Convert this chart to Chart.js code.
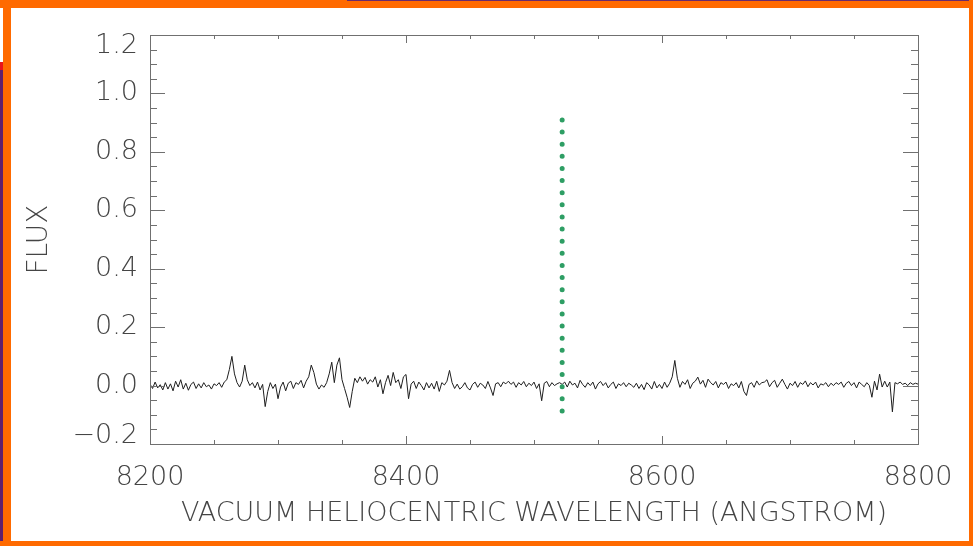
<!DOCTYPE html>
<html>
<head>
<meta charset="utf-8">
<script src="https://cdn.jsdelivr.net/npm/chart.js@4.4.1/dist/chart.umd.min.js"></script>
<style>
    html, body { margin: 0; padding: 0; background: #fff; }
    #wrap { position: relative; width: 973px; height: 546px; overflow: hidden; }
    #chart { position: absolute; left: 0; top: 0; }
    .frame { position: absolute; pointer-events: none; }
</style>
</head>
<body>
<div id="wrap">
    <canvas id="chart" width="973" height="546"></canvas>
    <div class="frame" style="left:0;top:0;width:973px;height:8px;background:#ff6a00"></div>
    <div class="frame" style="left:347px;top:0;width:626px;height:1px;background:#6b2a6b"></div>
    <div class="frame" style="left:3px;top:0;width:8px;height:546px;background:#ff6a00"></div>
    <div class="frame" style="left:0;top:62px;width:3px;height:8px;background:#e8141c"></div>
    <div class="frame" style="left:0;top:70px;width:3px;height:476px;background:#5e1f6e"></div>
    <div class="frame" style="left:969px;top:0;width:4px;height:546px;background:#ff6a00"></div>
    <div class="frame" style="left:0;top:541px;width:973px;height:5px;background:#ff6a00"></div>
</div>
<script>
// spectrum, sampled every 2 Angstrom from 8200 to 8800
const waveStart = 8200;
const waveStep = 2;
const fluxValues = [
    0.005,-0.010,0.012,-0.008,0.003,-0.015,0.010,-0.012,0.006,-0.018,
    0.015,-0.005,0.020,-0.012,0.008,-0.016,0.004,0.012,-0.010,0.006,
    -0.008,0.010,-0.004,0.002,-0.012,0.006,0.000,0.010,-0.006,0.012,
    0.020,0.055,0.100,0.040,0.010,-0.005,0.015,0.070,0.020,0.000,
    0.010,-0.008,0.012,-0.015,0.004,-0.072,-0.020,0.010,-0.010,0.005,
    -0.045,-0.005,0.012,-0.018,0.008,0.015,-0.010,0.010,0.004,0.018,
    -0.008,0.015,0.030,0.070,0.045,0.005,-0.012,0.002,-0.006,0.010,
    0.040,0.080,0.010,0.070,0.095,0.020,-0.010,-0.040,-0.075,-0.020,
    0.025,0.010,0.030,0.015,0.028,0.005,0.020,0.012,0.030,-0.005,
    0.020,-0.028,0.010,0.035,0.000,0.045,0.010,0.020,-0.010,0.030,
    0.038,-0.045,0.005,0.015,-0.010,0.012,0.000,-0.015,0.010,-0.008,
    0.008,-0.012,0.015,-0.020,0.010,0.002,0.015,0.052,0.010,-0.010,
    0.005,-0.012,-0.004,0.010,-0.008,-0.015,0.004,0.012,-0.006,0.008,
    0.002,-0.010,0.014,-0.008,-0.034,0.006,0.010,-0.004,0.012,0.006,
    0.015,0.004,0.012,-0.006,0.010,0.002,0.014,-0.004,0.008,0.000,
    0.012,-0.010,0.006,-0.052,0.008,0.014,-0.004,0.010,0.000,0.006,
    0.010,0.004,0.012,-0.005,0.015,0.002,0.008,-0.008,0.018,0.004,
    -0.006,0.010,0.000,0.012,-0.012,0.006,0.014,0.000,0.010,-0.008,
    0.004,0.012,-0.010,0.006,0.000,0.010,-0.004,0.008,0.002,-0.006,
    0.008,-0.010,0.004,-0.014,0.010,0.002,-0.012,0.014,-0.008,0.004,
    -0.010,0.012,-0.006,0.008,0.030,0.086,0.025,-0.006,0.014,0.004,
    0.020,-0.010,0.008,0.015,0.029,0.005,0.018,-0.006,0.022,0.010,
    0.002,0.014,-0.008,0.010,0.004,0.012,-0.010,0.006,0.000,0.010,
    -0.008,0.014,-0.020,-0.034,0.004,0.010,-0.006,0.016,0.002,0.010,
    0.012,0.020,-0.004,0.010,0.018,-0.006,0.008,0.022,0.004,-0.012,
    0.008,0.000,0.014,-0.006,0.010,0.004,0.016,-0.004,0.010,0.002,
    0.012,-0.008,0.006,0.002,0.010,-0.004,0.008,0.000,0.010,0.004,
    0.012,-0.006,0.008,0.014,0.000,0.010,-0.008,0.012,0.004,-0.004,
    0.010,0.000,-0.040,0.015,-0.015,0.039,-0.005,0.015,-0.005,0.012,
    -0.090,0.010,0.006,0.012,0.004,0.008,0.000,0.010,0.004,0.008,
    0.005
];

// green dotted marker line
const markerWave = 8522;
const markerFlux = [-0.087, 0.912];

const xMin = 8200, xMax = 8800;
const yMin = -0.2, yMax = 1.2;
const xLabelValues = [8200, 8400, 8600, 8800];
const yLabelValues = [-0.2, 0.0, 0.2, 0.4, 0.6, 0.8, 1.0, 1.2];

const textColor = '#454545';
const axisColor = '#707070';
const fontFamily = "'DejaVu Sans', sans-serif";

const spectrum = fluxValues.map((f, i) => ({ x: waveStart + i * waveStep, y: f }));
const marker = markerFlux.map(f => ({ x: markerWave, y: f }));

// IDL style frame with inward ticks on all four sides
const framePlugin = {
    id: 'idlFrame',
    afterDraw(chart) {
        const ctx = chart.ctx;
        const area = chart.chartArea;
        const xs = chart.scales.x;
        const ys = chart.scales.y;
        ctx.save();
        ctx.strokeStyle = axisColor;
        ctx.lineWidth = 1;
        ctx.strokeRect(area.left + 0.5, area.top + 0.5, area.right - area.left, area.bottom - area.top);

        ctx.beginPath();
        for (let v = xMin; v <= xMax; v += 50) {
            const px = Math.round(xs.getPixelForValue(v)) + 0.5;
            const len = v % 200 === 0 ? 8 : 4;
            ctx.moveTo(px, area.bottom);
            ctx.lineTo(px, area.bottom - len);
            ctx.moveTo(px, area.top);
            ctx.lineTo(px, area.top + len);
        }
        for (let i = 0; i <= 28; i++) {
            const v = yMin + i * 0.05;
            const py = Math.round(ys.getPixelForValue(v)) + 0.5;
            const len = i % 4 === 0 ? 15 : 7;
            ctx.moveTo(area.left, py);
            ctx.lineTo(area.left + len, py);
            ctx.moveTo(area.right, py);
            ctx.lineTo(area.right - len, py);
        }
        ctx.stroke();

        // y tick labels, kept inside the frame at the ends
        ctx.fillStyle = textColor;
        ctx.font = "200 27px " + fontFamily;
        ctx.textAlign = 'right';
        ctx.textBaseline = 'middle';
        yLabelValues.forEach(v => {
            let py = ys.getPixelForValue(v);
            py = Math.max(area.top + 11, Math.min(area.bottom - 8, py));
            const label = (v < 0 ? '\u2212' : '') + Math.abs(v).toFixed(1);
            ctx.fillText(label, area.left - 12, py);
        });
        ctx.restore();
    }
};

const chart = new Chart(document.getElementById('chart'), {
    type: 'line',
    data: {
        datasets: [{
            label: 'Flux',
            data: spectrum,
            borderColor: '#1e1e1e',
            borderWidth: 1,
            pointRadius: 0,
            tension: 0,
            order: 2
        }, {
            label: 'Marker',
            data: marker,
            borderColor: '#2e9e64',
            borderWidth: 5,
            borderDash: [0, 12.125],
            borderCapStyle: 'round',
            pointRadius: 0,
            order: 1
        }]
    },
    options: {
        responsive: false,
        animation: false,
        events: [],
        layout: { padding: { left: 0, right: 55, top: 35, bottom: 0 } },
        plugins: {
            legend: { display: false },
            tooltip: { enabled: false }
        },
        scales: {
            x: {
                type: 'linear',
                min: xMin,
                max: xMax,
                grid: { display: false },
                border: { display: false },
                afterBuildTicks: scale => {
                    scale.ticks = xLabelValues.map(v => ({ value: v }));
                },
                afterFit: scale => { scale.height = 102; },
                ticks: {
                    autoSkip: false,
                    maxRotation: 0,
                    padding: 10,
                    color: textColor,
                    font: { family: fontFamily, size: 27, weight: 200 },
                    callback: v => String(v)
                },
                title: {
                    display: true,
                    text: 'VACUUM HELIOCENTRIC WAVELENGTH (ANGSTROM)',
                    color: textColor,
                    font: { family: fontFamily, size: 27, weight: 200 },
                    padding: { top: 0, bottom: 16 }
                }
            },
            y: {
                type: 'linear',
                min: yMin,
                max: yMax,
                grid: { display: false },
                border: { display: false },
                ticks: { display: false },
                afterFit: scale => { scale.width = 150; },
                title: {
                    display: true,
                    text: 'FLUX',
                    color: textColor,
                    font: { family: fontFamily, size: 28, weight: 200 },
                    padding: { top: 23, bottom: 0 }
                }
            }
        }
    },
    plugins: [framePlugin]
});
</script>
</body>
</html>
